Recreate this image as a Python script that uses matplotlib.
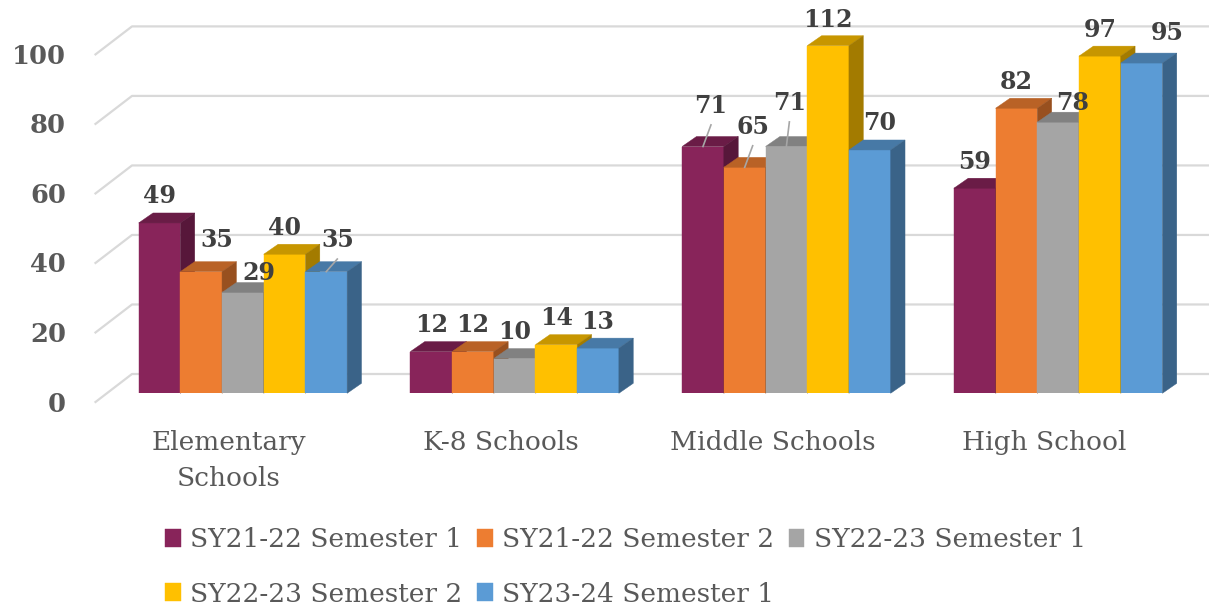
import textwrap
import numpy as np
import matplotlib
matplotlib.use("Agg")
import matplotlib.pyplot as plt
from matplotlib.patches import Polygon
from matplotlib.colors import to_rgb

categories = ["Elementary Schools", "K-8 Schools", "Middle Schools", "High School"]
series_names = ["SY21-22 Semester 1", "SY21-22 Semester 2", "SY22-23 Semester 1",
                "SY22-23 Semester 2", "SY23-24 Semester 1"]
sy2122_s1 = [49, 12, 71, 59]
sy2122_s2 = [35, 12, 65, 82]
sy2223_s1 = [29, 10, 71, 78]
sy2223_s2 = [40, 14, 112, 97]
sy2324_s1 = [35, 13, 70, 95]
series = [sy2122_s1, sy2122_s2, sy2223_s1, sy2223_s2, sy2324_s1]
colors = ["#88245A", "#ED7D31", "#A5A5A5", "#FFC000", "#5B9BD5"]
y_ticks = [0, 20, 40, 60, 80, 100]
y_max = 100

# label nudges in pixels (right, down) for labels Excel moved, and which get leader lines
label_nudge = {(0, 1): (16, -5), (0, 2): (16, 7), (0, 4): (11, -5),
               (2, 0): (8, -14), (2, 1): (8, -14), (2, 2): (3, -17), (2, 3): (0, 1),
               (2, 4): (10, 0), (3, 2): (14, 7), (3, 4): (26, -3.5)}
leaders = [(0, 4), (2, 0), (2, 1), (2, 2)]

plt.rcParams["font.family"] = "DejaVu Serif"

W, H = 1209, 608
fig = plt.figure(figsize=(W / 100, H / 100), dpi=100)
plot_l, plot_r, plot_top, plot_bot = 107, 1194, 45.7, 393.3
ax = fig.add_axes([plot_l / W, 1 - plot_bot / H, (plot_r - plot_l) / W, (plot_bot - plot_top) / H])
ax.set_xlim(-0.5, len(categories) - 0.5)
ax.set_ylim(0, y_max)
ax.axis("off")

sx = (plot_r - plot_l) / len(categories)   # px per category
sy = (plot_bot - plot_top) / y_max          # px per unit


def shade(c, f):
    return tuple(v * f for v in to_rgb(c))


# back wall gridlines + floor diagonals + tick labels
for v in y_ticks:
    x0, y0 = -0.5 - 11.5 / sx, v - 8.7 / sy
    x1, y1 = -0.5 + 25 / sx, v + 19.3 / sy
    x2 = -0.5 + (W - plot_l) / sx
    ax.plot([x0, x1, x2], [y0, y1, y1], color="#D9D9D9", lw=1.6, clip_on=False, zorder=1)
    ax.text(-0.5 - (plot_l - 66) / sx, y0 - 2 / sy, str(v), ha="right", va="center",
            fontsize=18.5, weight="bold", color="#595959")

w = 41.7 / sx
ddx, ddy = 14.4 / sx, 10 / sy
handles = []
for j, vals in enumerate(series):
    xs = np.arange(len(categories)) + (j - 2) * w
    bars = ax.bar(xs, vals, width=w, color=colors[j], label=series_names[j],
                  edgecolor=colors[j], linewidth=0.3)
    handles.append(bars)
    for i, (rect, v) in enumerate(zip(bars, vals)):
        z = 2 + (i * 5 + j) * 0.01
        rect.set_zorder(z)
        h = min(v, y_max)
        xl, xr = xs[i] - w / 2, xs[i] + w / 2
        top = Polygon([(xl, h), (xr, h), (xr + ddx, h + ddy), (xl + ddx, h + ddy)],
                      facecolor=shade(colors[j], 0.78), edgecolor=shade(colors[j], 0.78),
                      lw=0.3, clip_on=False, zorder=z + 0.001)
        side = Polygon([(xr, 0), (xr + ddx, ddy), (xr + ddx, h + ddy), (xr, h)],
                       facecolor=shade(colors[j], 0.64), edgecolor=shade(colors[j], 0.64),
                       lw=0.3, clip_on=False, zorder=z + 0.002)
        ax.add_patch(top)
        ax.add_patch(side)

        ndx, ndy = label_nudge.get((i, j), (0, 0))
        lx = xs[i] + ndx / sx
        ly = h + ddy + (16.6 - ndy) / sy
        ax.text(lx, ly, str(v), ha="center", va="center", fontsize=17, weight="bold",
                color="#404040", zorder=10, clip_on=False)
        if (i, j) in leaders:
            ax.plot([xs[i], lx], [h, ly - 19 / sy], color="#A6A6A6", lw=1.2,
                    zorder=9, clip_on=False)

for i, c in enumerate(categories):
    ax.text(i - 14 / sx, -(430 - plot_bot) / sy, textwrap.fill(c, 16), ha="center", va="top",
            fontsize=19, color="#595959", linespacing=1.55, clip_on=False)

order = [0, 3, 1, 4, 2]
fig.legend([handles[k] for k in order], [series_names[k] for k in order],
           ncol=3, frameon=False, loc="upper left", bbox_to_anchor=(165 / W, 1 - 527 / H),
           fontsize=19, handlelength=0.6, handleheight=0.65, handletextpad=0.35,
           columnspacing=0.55, labelspacing=1.12, borderpad=0, borderaxespad=0,
           labelcolor="#595959")

fig.savefig("out.png", dpi=100)
